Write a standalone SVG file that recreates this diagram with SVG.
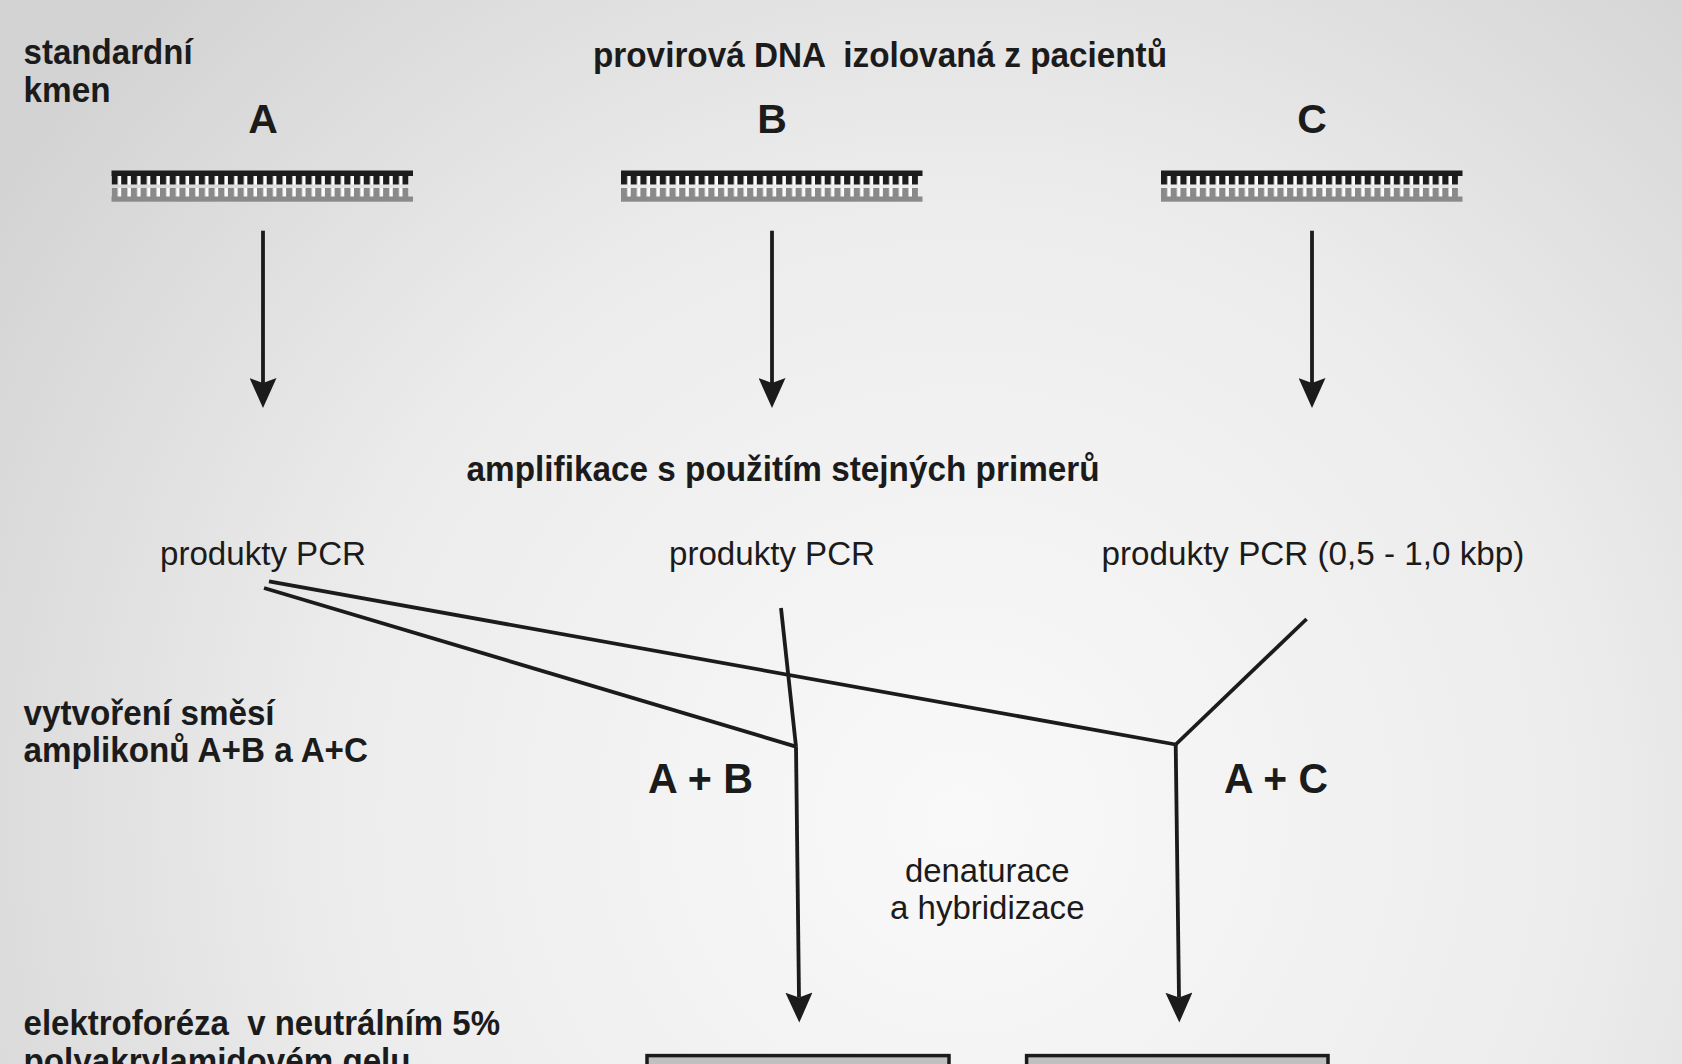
<svg xmlns="http://www.w3.org/2000/svg" width="1682" height="1064" viewBox="0 0 1682 1064">
<style>
text{font-family:"Liberation Sans",Arial,sans-serif;fill:#1b1b1b;white-space:pre}
.b{font-weight:bold;font-size:35px}
.r{font-size:33px}
.big{font-weight:bold;font-size:41px;text-anchor:middle}
.ln{stroke:#1b1b1b;stroke-width:3.8;fill:none;stroke-linecap:butt}
.arr{marker-end:url(#ah)}
.box{fill:#c0c0c0;stroke:#1b1b1b;stroke-width:3.5}
</style>
<defs>
<radialGradient id="bg" cx="960" cy="820" r="1150" gradientUnits="userSpaceOnUse">
<stop offset="0" stop-color="#f9f9f9"/>
<stop offset="0.55" stop-color="#ececec"/>
<stop offset="1" stop-color="#d3d3d3"/>
</radialGradient>
<pattern id="tk" width="9.7" height="40" patternUnits="userSpaceOnUse"><rect width="6.2" height="40" fill="#1c1c1c"/></pattern>
<pattern id="tg" width="9.7" height="40" patternUnits="userSpaceOnUse"><rect width="6.2" height="40" fill="#8a8a8a"/></pattern>
<g id="ladder">
<rect x="0" y="5" width="297" height="9" fill="#fbfbfb"/>
<rect x="0" y="17.5" width="297" height="9" fill="#fbfbfb"/>
<rect x="0" y="5" width="297" height="9" fill="url(#tk)"/>
<rect x="0" y="17.5" width="297" height="9" fill="url(#tg)"/>
<rect x="0" y="0" width="301.5" height="5.5" fill="#1c1c1c"/>
<rect x="0" y="26" width="301.5" height="5.2" fill="#8a8a8a"/>
</g>
<marker id="ah" viewBox="0 0 30 27" refX="5" refY="13.5" markerWidth="30" markerHeight="27" markerUnits="userSpaceOnUse" orient="auto">
<path d="M0,0 L30,13.5 L0,27 L5,13.5 Z" fill="#1b1b1b"/>
</marker>
</defs>
<rect width="1682" height="1064" fill="url(#bg)"/>

<g id="label-standard"><text class="b" x="23.6" y="64" textLength="169" lengthAdjust="spacingAndGlyphs">standardní</text><text class="b" x="23.6" y="102" textLength="87" lengthAdjust="spacingAndGlyphs">kmen</text></g>
<g id="label-provirova"><text class="b" x="593" y="66.5" textLength="574" lengthAdjust="spacingAndGlyphs">provirová DNA  izolovaná z pacientů</text></g>

<g id="node-A"><text class="big" x="263" y="133">A</text><use href="#ladder" x="111.5" y="170.5"/></g>
<g id="node-B"><text class="big" x="772" y="133">B</text><use href="#ladder" x="621" y="170.5"/></g>
<g id="node-C"><text class="big" x="1312" y="133">C</text><use href="#ladder" x="1161" y="170.5"/></g>

<g id="label-amplifikace"><text class="b" x="466.6" y="480.6" textLength="633" lengthAdjust="spacingAndGlyphs">amplifikace s použitím stejných primerů</text></g>

<g id="pcr-A"><text class="r" x="160" y="565" textLength="206" lengthAdjust="spacingAndGlyphs">produkty PCR</text></g>
<g id="pcr-B"><text class="r" x="669" y="565" textLength="206" lengthAdjust="spacingAndGlyphs">produkty PCR</text></g>
<g id="pcr-C"><text class="r" x="1101.6" y="565" textLength="422.7" lengthAdjust="spacingAndGlyphs">produkty PCR (0,5 - 1,0 kbp)</text></g>

<g id="label-smesi"><text class="b" x="23.6" y="725" textLength="251" lengthAdjust="spacingAndGlyphs">vytvoření směsí</text><text class="b" x="23.6" y="761.6" textLength="344.4" lengthAdjust="spacingAndGlyphs">amplikonů A+B a A+C</text></g>

<g id="mix-AB"><text class="b" style="font-size:42px" x="648" y="793" textLength="105" lengthAdjust="spacingAndGlyphs">A + B</text></g>
<g id="mix-AC"><text class="b" style="font-size:42px" x="1224" y="793" textLength="104" lengthAdjust="spacingAndGlyphs">A + C</text></g>

<g id="label-denaturace"><text class="r" x="905" y="882" textLength="164.5" lengthAdjust="spacingAndGlyphs">denaturace</text><text class="r" x="890" y="919" textLength="194.5" lengthAdjust="spacingAndGlyphs">a hybridizace</text></g>

<g id="label-elektroforeza"><text class="b" x="23.6" y="1035" textLength="476.4" lengthAdjust="spacingAndGlyphs">elektroforéza  v neutrálním 5%</text><text class="b" x="23.6" y="1073" textLength="387" lengthAdjust="spacingAndGlyphs">polyakrylamidovém gelu</text></g>

<g id="gel-AB"><rect class="box" x="647" y="1055.6" width="302" height="40"/></g>
<g id="gel-AC"><rect class="box" x="1026.6" y="1055.6" width="301.4" height="40"/></g>

<g id="connectors">
<line class="ln arr" x1="263" y1="230.7" x2="263" y2="383"/>
<line class="ln arr" x1="772" y1="230.7" x2="772" y2="383"/>
<line class="ln arr" x1="1312" y1="230.7" x2="1312" y2="383"/>
<line class="ln" x1="269" y1="581.4" x2="1175.7" y2="744.5"/>
<line class="ln" x1="264" y1="588" x2="796" y2="746.6"/>
<line class="ln" x1="781" y1="608" x2="796" y2="746.6"/>
<line class="ln" x1="1306.6" y1="619" x2="1175.7" y2="744.5"/>
<line class="ln arr" x1="796" y1="746.6" x2="799" y2="997.6"/>
<line class="ln arr" x1="1175.7" y1="744.5" x2="1179" y2="997.6"/>
</g>
</svg>
